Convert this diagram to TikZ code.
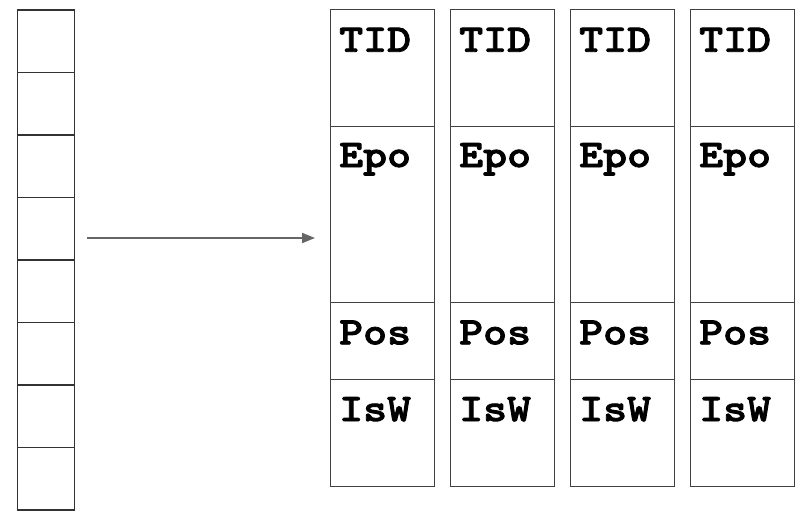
\documentclass[tikz,border=0pt]{standalone}
\usepackage{fontspec}
\newfontfamily\recfont[FakeStretch=1.17, FakeBold=2.2]{lmmonolt10-bold.otf}
\usetikzlibrary{arrows.meta}
\begin{document}
\begin{tikzpicture}[x=1pt,y=-1pt,
  slot/.style={draw=black!80, line width=1.2pt, inner sep=0pt, outer sep=0pt,
    minimum width=57pt, minimum height=62.5pt, anchor=north west},
  field/.style={draw=black!75, line width=1pt, inner sep=0pt, outer sep=0pt,
    minimum width=104pt, anchor=north west},
  label/.style={anchor=base west, inner sep=0pt, font=\recfont\fontsize{39}{46}\selectfont},
  flow/.style={draw=black!60, line width=2pt, -{Triangle[length=13pt,width=10pt]}}]
  \useasboundingbox (0,0) rectangle (808,530);
  % array of slots on the left
  \foreach \i in {0,...,7}
    \node[slot] (s\i) at (17.5, 10+62.5*\i) {};
  % four records, each split into four fields
  \foreach \c/\x in {1/330, 2/450, 3/570, 4/690} {
    \node[field, minimum height=116.8pt] (tid\c) at (\x, 9.5) {};
    \node[field, minimum height=175.7pt] (epo\c) at (\x, 126.3) {};
    \node[field, minimum height=77.3pt]  (pos\c) at (\x, 302) {};
    \node[field, minimum height=106.7pt] (isw\c) at (\x, 379.3) {};
    \node[label] (ltid\c) at (\x+9, 51.7) {TID};
    \node[label] (lepo\c) at (\x+9, 167) {Epo};
    \node[label] (lpos\c) at (\x+9, 344.3) {Pos};
    \node[label] (lisw\c) at (\x+9, 421) {IsW};
  }
  % pointer from the slot array to the records
  \coordinate (from) at (87.3, 238);
  \coordinate (to) at (315, 238);
  \draw[flow] (from) -- (to);
\end{tikzpicture}
\end{document}
